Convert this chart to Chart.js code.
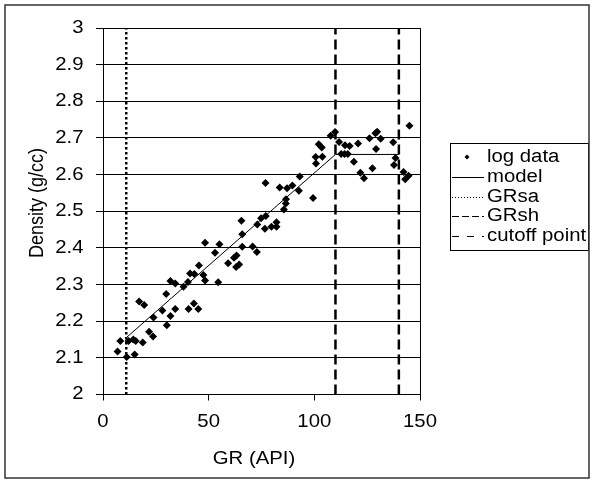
<!DOCTYPE html>
<html>
<head>
<meta charset="utf-8">
<script src="https://cdn.jsdelivr.net/npm/chart.js@4.4.0/dist/chart.umd.min.js"></script>
<style>
  html, body { margin: 0; padding: 0; background: #fff; }
</style>
</head>
<body>
<canvas id="chart" width="594" height="483"></canvas>
<script>
// log data
const grValues = [
  6.9, 8.2, 11.2, 12.1, 14.3, 15.5, 15.0, 18.8, 17.1, 19.5,
  21.8, 23.7, 23.9, 28.1, 29.9, 30.2, 31.9, 31.9, 34.2, 34.2,
  38.1, 40.2, 41.2, 43.2, 45.4, 47.5, 48.3, 40.5, 43.0, 45.1,
  54.5, 48.3, 53.0, 55.1, 59.2, 62.0, 63.2, 63.0, 64.4, 65.5,
  65.9, 65.9, 70.8, 72.8, 73.0, 74.8, 77.0, 76.6, 79.7, 82.1,
  82.1, 76.9, 83.6, 87.1, 89.6, 86.6, 86.5, 85.6, 92.7, 93.1,
  99.4, 100.6, 100.8, 102.1, 103.5, 103.8, 107.7, 109.8, 111.7, 112.7,
  114.3, 115.8, 114.5, 116.7, 118.7, 120.7, 121.8, 123.5, 126.1, 127.5,
  128.9, 129.7, 131.4, 129.2, 137.3, 138.4, 137.7, 142.2, 143.0, 144.6,
  145.0
];
const densityValues = [
  2.117, 2.146, 2.102, 2.146, 2.150, 2.146, 2.109, 2.142, 2.254, 2.244,
  2.171, 2.158, 2.210, 2.229, 2.274, 2.189, 2.214, 2.310, 2.303, 2.233,
  2.294, 2.307, 2.330, 2.329, 2.352, 2.326, 2.311, 2.233, 2.248, 2.233,
  2.306, 2.414, 2.387, 2.410, 2.358, 2.373, 2.379, 2.348, 2.355, 2.474,
  2.437, 2.403, 2.404, 2.389, 2.464, 2.481, 2.487, 2.452, 2.458, 2.458,
  2.470, 2.577, 2.565, 2.563, 2.570, 2.533, 2.521, 2.505, 2.556, 2.595,
  2.536, 2.648, 2.630, 2.683, 2.674, 2.649, 2.706, 2.716, 2.689, 2.656,
  2.656, 2.656, 2.680, 2.678, 2.635, 2.685, 2.605, 2.590, 2.699, 2.617,
  2.713, 2.717, 2.698, 2.670, 2.688, 2.645, 2.626, 2.607, 2.587, 2.597,
  2.733
];

// model: sand point -> shale point -> flat to cutoff
const modelGR = [11, 110, 140];
const modelDensity = [2.155, 2.655, 2.655];

const grSand = 11;
const grShale = 110;
const grCutoff = 140;

const xMin = 0, xMax = 150, xStep = 50;
const yMin = 2, yMax = 3, yStep = 0.1;

const seriesNames = ["log data", "model", "GRsa", "GRsh", "cutoff point"];
const xTitle = "GR (API)";
const yTitle = "Density (g/cc)";

const FONT = "18px 'Liberation Sans', Arial, sans-serif";
const STRETCH = 1.13; // the picture's text is a bit wide

function vline(x) {
  return [{ x: x, y: yMin }, { x: x, y: yMax }];
}

function wideText(ctx, text, x, y, align, rotate) {
  ctx.save();
  ctx.translate(x, y);
  ctx.scale(STRETCH, 1);
  if (rotate) ctx.rotate(-Math.PI / 2);
  ctx.textAlign = align;
  ctx.textBaseline = "middle";
  ctx.fillText(text, 0, 0);
  ctx.restore();
}

function tickLabel(v) {
  return String(Number(v.toFixed(1)));
}

// axis labels and titles, drawn a little wide like the picture
const textPlugin = {
  id: "wideText",
  afterDraw(chart) {
    const ctx = chart.ctx;
    const xs = chart.scales.x, ys = chart.scales.y;
    ctx.save();
    ctx.font = FONT;
    ctx.fillStyle = "#000";
    ys.ticks.forEach(t => {
      wideText(ctx, tickLabel(t.value), 83.5, ys.getPixelForValue(t.value), "right", false);
    });
    xs.ticks.forEach(t => {
      wideText(ctx, tickLabel(t.value), xs.getPixelForValue(t.value), 422, "center", false);
    });
    wideText(ctx, xTitle, 254, 459, "center", false);
    wideText(ctx, yTitle, 37, 203, "center", true);
    ctx.restore();
  }
};

// legend box drawn by hand, Excel style
const legendPlugin = {
  id: "boxLegend",
  afterDraw(chart) {
    const ctx = chart.ctx;
    const box = { left: 450, top: 143, right: 588, bottom: 250 };
    const firstRow = 157, rowH = 19.8;
    ctx.save();
    ctx.strokeStyle = "#000";
    ctx.lineWidth = 1;
    ctx.setLineDash([]);
    ctx.strokeRect(box.left + 0.5, box.top + 0.5, box.right - box.left, box.bottom - box.top);

    ctx.beginPath();
    ctx.rect(box.left, box.top, box.right - box.left + 1, box.bottom - box.top);
    ctx.clip();
    ctx.font = FONT;
    ctx.fillStyle = "#000";
    chart.data.datasets.forEach((ds, i) => {
      const y = firstRow + rowH * i;
      if (ds.showLine === false) {
        ctx.beginPath();
        ctx.moveTo(467 - 2.5, y);
        ctx.lineTo(467, y - 2.5);
        ctx.lineTo(467 + 2.5, y);
        ctx.lineTo(467, y + 2.5);
        ctx.closePath();
        ctx.fill();
      } else {
        ctx.beginPath();
        ctx.lineWidth = 1;
        ctx.setLineDash(ds.legendDash || []);
        ctx.moveTo(452, Math.round(y) + 0.5);
        ctx.lineTo(484, Math.round(y) + 0.5);
        ctx.stroke();
        ctx.setLineDash([]);
      }
      wideText(ctx, ds.label, 487, y, "left", false);
    });
    ctx.restore();
  }
};

const framePlugin = {
  id: "frame",
  afterDraw(chart) {
    const ctx = chart.ctx;
    ctx.save();
    ctx.strokeStyle = "#333";
    ctx.lineWidth = 1.5;
    ctx.strokeRect(5, 5, 584, 473);
    // plot area border on the right
    const a = chart.chartArea;
    ctx.strokeStyle = "#000";
    ctx.lineWidth = 1;
    ctx.beginPath();
    ctx.moveTo(Math.round(a.right) + 0.5, a.top);
    ctx.lineTo(Math.round(a.right) + 0.5, a.bottom);
    ctx.stroke();
    ctx.restore();
  }
};

const ctx = document.getElementById("chart").getContext("2d");
window.myChart = new Chart(ctx, {
  type: "scatter",
  data: {
    datasets: [
      {
        label: seriesNames[0],
        data: grValues.map((g, i) => ({ x: g, y: densityValues[i] })),
        showLine: false,
        pointStyle: "rectRot",
        pointRadius: 4,
        pointBorderWidth: 0,
        backgroundColor: "#000",
        borderColor: "#000"
      },
      {
        label: seriesNames[1],
        data: modelGR.map((g, i) => ({ x: g, y: modelDensity[i] })),
        showLine: true,
        borderColor: "#000",
        borderWidth: 1,
        pointRadius: 0,
        legendDash: []
      },
      {
        label: seriesNames[2],
        data: vline(grSand),
        showLine: true,
        borderColor: "#000",
        borderWidth: 2.5,
        borderDash: [2.5, 2.5],
        pointRadius: 0,
        legendDash: [1, 2]
      },
      {
        label: seriesNames[3],
        data: vline(grShale),
        showLine: true,
        borderColor: "#000",
        borderWidth: 2.5,
        borderDash: [10, 5],
        pointRadius: 0,
        legendDash: [7, 3]
      },
      {
        label: seriesNames[4],
        data: vline(grCutoff),
        showLine: true,
        borderColor: "#000",
        borderWidth: 2.5,
        borderDash: [10, 5],
        pointRadius: 0,
        legendDash: [7, 8]
      }
    ]
  },
  options: {
    responsive: false,
    animation: false,
    layout: { padding: { left: 0, top: 28, right: 174, bottom: 0 } },
    plugins: {
      legend: { display: false },
      tooltip: { enabled: false }
    },
    scales: {
      x: {
        type: "linear",
        min: xMin,
        max: xMax,
        ticks: { stepSize: xStep, display: false },
        grid: {
          drawOnChartArea: false,
          drawTicks: true,
          tickLength: 6,
          color: "#000"
        },
        border: { display: true, color: "#000", width: 1 },
        afterFit(scale) { scale.height = 88.5; }
      },
      y: {
        type: "linear",
        min: yMin,
        max: yMax,
        ticks: { stepSize: yStep, display: false },
        grid: {
          drawOnChartArea: true,
          drawTicks: true,
          tickLength: 7,
          color: "#000",
          lineWidth: 1
        },
        border: { display: true, color: "#000", width: 1 },
        afterFit(scale) { scale.width = 103; }
      }
    }
  },
  plugins: [textPlugin, legendPlugin, framePlugin]
});
</script>
</body>
</html>
